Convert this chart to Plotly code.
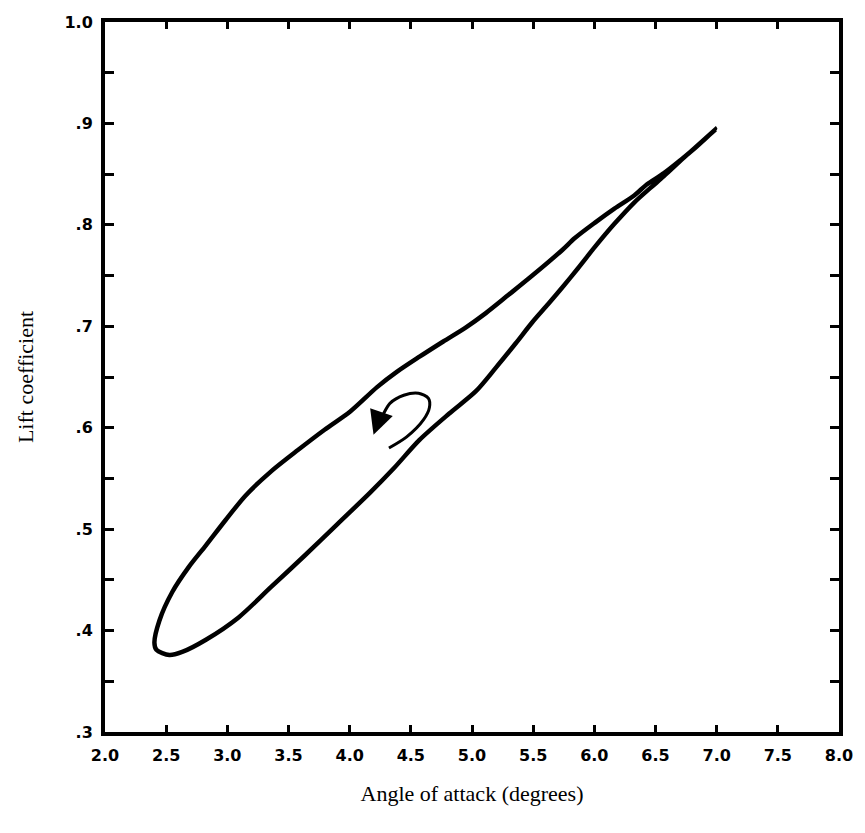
import plotly.graph_objects as go

# Lift hysteresis loop: angle of attack (deg) vs lift coefficient
# upper branch, from the high-alpha tip down to the low-alpha end
upper_alpha = [6.99, 6.835, 6.706, 6.569, 6.431, 6.326, 6.164, 6.003, 5.841, 5.736,
               5.493, 5.299, 5.113, 4.951, 4.765, 4.571, 4.385, 4.224, 4.005, 3.795,
               3.577, 3.358, 3.148, 2.986, 2.825, 2.687, 2.550, 2.445, 2.404, 2.420,
               2.526, 2.631]
upper_cl = [0.894, 0.877, 0.864, 0.851, 0.840, 0.829, 0.816, 0.802, 0.787, 0.775,
            0.750, 0.731, 0.713, 0.699, 0.685, 0.670, 0.655, 0.640, 0.616, 0.598,
            0.578, 0.557, 0.533, 0.509, 0.484, 0.463, 0.438, 0.410, 0.388, 0.381,
            0.376, 0.379]
# lower branch, from the low-alpha end back up to the tip
lower_alpha = [2.825, 3.092, 3.358, 3.633, 3.900, 4.167, 4.361, 4.571, 4.814, 5.032,
               5.194, 5.356, 5.493, 5.623, 5.736, 5.865, 6.003, 6.164, 6.326, 6.464,
               6.569, 6.730, 6.99]
lower_cl = [0.391, 0.413, 0.443, 0.474, 0.505, 0.536, 0.560, 0.588, 0.614, 0.636,
            0.659, 0.683, 0.704, 0.722, 0.738, 0.757, 0.778, 0.801, 0.822, 0.837,
            0.848, 0.866, 0.894]

# direction-of-travel arrow drawn inside the loop
arrow_alpha = [4.321, 4.466, 4.604, 4.652, 4.644, 4.563, 4.442, 4.329, 4.264, 4.224]
arrow_cl = [0.580, 0.591, 0.608, 0.620, 0.629, 0.634, 0.632, 0.624, 0.611, 0.603]
arrow_tip = (4.195, 0.593)

x_ticks = [2.0, 2.5, 3.0, 3.5, 4.0, 4.5, 5.0, 5.5, 6.0, 6.5, 7.0, 7.5, 8.0]
x_labels = ["2.0", "2.5", "3.0", "3.5", "4.0", "4.5", "5.0", "5.5", "6.0", "6.5",
            "7.0", "7.5", "8.0"]
y_ticks = [0.30, 0.35, 0.40, 0.45, 0.50, 0.55, 0.60, 0.65, 0.70, 0.75, 0.80, 0.85,
           0.90, 0.95, 1.00]
y_labels = [".3", "", ".4", "", ".5", "", ".6", "", ".7", "", ".8", "", ".9", "", "1.0"]

loop_x = upper_alpha + lower_alpha
loop_y = upper_cl + lower_cl

fig = go.Figure()
fig.add_trace(go.Scatter(x=loop_x, y=loop_y, mode="lines",
                         line=dict(color="black", width=4.5, shape="spline", smoothing=0.8),
                         hoverinfo="skip", showlegend=False))
fig.add_trace(go.Scatter(x=arrow_alpha, y=arrow_cl, mode="lines",
                         line=dict(color="black", width=3, shape="spline", smoothing=0.8),
                         hoverinfo="skip", showlegend=False))
fig.add_annotation(x=arrow_tip[0], y=arrow_tip[1], ax=arrow_alpha[-1], ay=arrow_cl[-1],
                   xref="x", yref="y", axref="x", ayref="y", text="",
                   showarrow=True, arrowhead=2, arrowsize=1.6, arrowwidth=3,
                   arrowcolor="black", standoff=0)

tick_font = dict(family="DejaVu Sans", size=16, color="black", weight="bold")
title_font = dict(family="Liberation Serif", size=22, color="black")

fig.update_xaxes(range=[2.0, 8.0], tickvals=x_ticks, ticktext=x_labels,
                 ticks="inside", ticklen=7, tickwidth=3, tickcolor="black",
                 showline=True, linewidth=4, linecolor="black", mirror="ticks",
                 showgrid=False, zeroline=False, tickfont=tick_font,
                 ticklabelstandoff=6,
                 title=dict(text="Angle of attack (degrees)", font=title_font, standoff=22))
fig.update_yaxes(range=[0.3, 1.0], tickvals=y_ticks, ticktext=y_labels,
                 ticks="inside", ticklen=9, tickwidth=3, tickcolor="black",
                 showline=True, linewidth=4, linecolor="black", mirror="ticks",
                 showgrid=False, zeroline=False, tickfont=tick_font,
                 ticklabelstandoff=5,
                 title=dict(text="Lift coefficient", font=title_font, standoff=26))

fig.update_layout(width=865, height=833,
                  margin=dict(l=105, r=18, t=22, b=101),
                  plot_bgcolor="white", paper_bgcolor="white")

fig.write_html("out.html")
